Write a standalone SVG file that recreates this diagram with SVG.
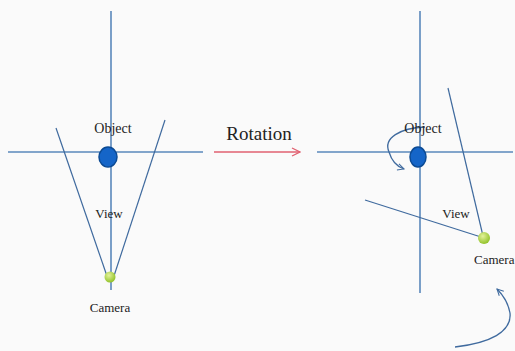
<svg xmlns="http://www.w3.org/2000/svg" width="515" height="351" viewBox="0 0 515 351">
<style>
.ax{stroke:#5a88bb;stroke-width:1.6;fill:none}
.vw{stroke:#3f6a9e;stroke-width:1.2;fill:none}
.cu{stroke:#3f6a9e;stroke-width:1.3;fill:none}
.t{font-family:"Liberation Serif","DejaVu Serif",serif;fill:#222}
</style>
<defs>
<radialGradient id="g" cx="0.4" cy="0.35" r="0.7"><stop offset="0" stop-color="#e4f29a"/><stop offset="1" stop-color="#8cbf22"/></radialGradient>
<marker id="op" viewBox="0 0 10 10" refX="9" refY="5" markerWidth="8" markerHeight="8" orient="auto" markerUnits="userSpaceOnUse"><path d="M1,1 L9,5 L1,9" fill="none" stroke="#3f6a9e" stroke-width="1.3"/></marker>
<marker id="rd" viewBox="0 0 10 10" refX="9" refY="5" markerWidth="10" markerHeight="10" orient="auto" markerUnits="userSpaceOnUse"><path d="M1,1 L9,5 L1,9" fill="none" stroke="#e06070" stroke-width="1.3"/></marker>
</defs>
<rect width="515" height="351" fill="#fafafa"/>
<g id="connectors">
<line class="ax" x1="111" y1="11" x2="111" y2="290"/>
<line class="ax" x1="8" y1="152" x2="203" y2="152"/>
<line class="vw" x1="56" y1="128" x2="108" y2="279"/>
<line class="vw" x1="165" y1="120" x2="113" y2="279"/>
<line x1="214" y1="152" x2="300" y2="152" stroke="#e06070" stroke-width="1.5" marker-end="url(#rd)"/>
<line class="ax" x1="420" y1="11" x2="420" y2="293"/>
<line class="ax" x1="317" y1="152" x2="513" y2="152"/>
<line class="vw" x1="448" y1="88" x2="483" y2="236"/>
<line class="vw" x1="365" y1="200" x2="481" y2="237"/>
<path class="cu" d="M425,127 C400,128 383,138 389,152 C392,162 398,167 404,169" marker-end="url(#op)"/>
<path class="cu" d="M455,347 C490,343 512,332 510,313 C508,302 502,294 497,289" marker-end="url(#op)"/>
</g>
<g id="object-left">
<ellipse cx="108" cy="157" rx="9" ry="10" fill="#1565c8" stroke="#0b4a94" stroke-width="1.5"/>
<text class="t" x="113" y="133" font-size="14" text-anchor="middle">Object</text>
</g>
<g id="camera-left">
<circle cx="110" cy="277" r="5.5" fill="url(#g)"/>
<text class="t" x="110" y="312" font-size="13" text-anchor="middle">Camera</text>
</g>
<g id="view-left"><text class="t" x="109" y="218" font-size="13" text-anchor="middle">View</text></g>
<g id="rotation"><text class="t" x="259" y="140" font-size="19" text-anchor="middle">Rotation</text></g>
<g id="object-right">
<ellipse cx="418" cy="157" rx="8" ry="10" fill="#1565c8" stroke="#0b4a94" stroke-width="1.5"/>
<text class="t" x="423" y="133" font-size="14" text-anchor="middle">Object</text>
</g>
<g id="view-right"><text class="t" x="456" y="218" font-size="13" text-anchor="middle">View</text></g>
<g id="camera-right">
<circle cx="484" cy="238" r="6" fill="url(#g)"/>
<text class="t" x="474" y="264" font-size="13">Camera</text>
</g>
</svg>
